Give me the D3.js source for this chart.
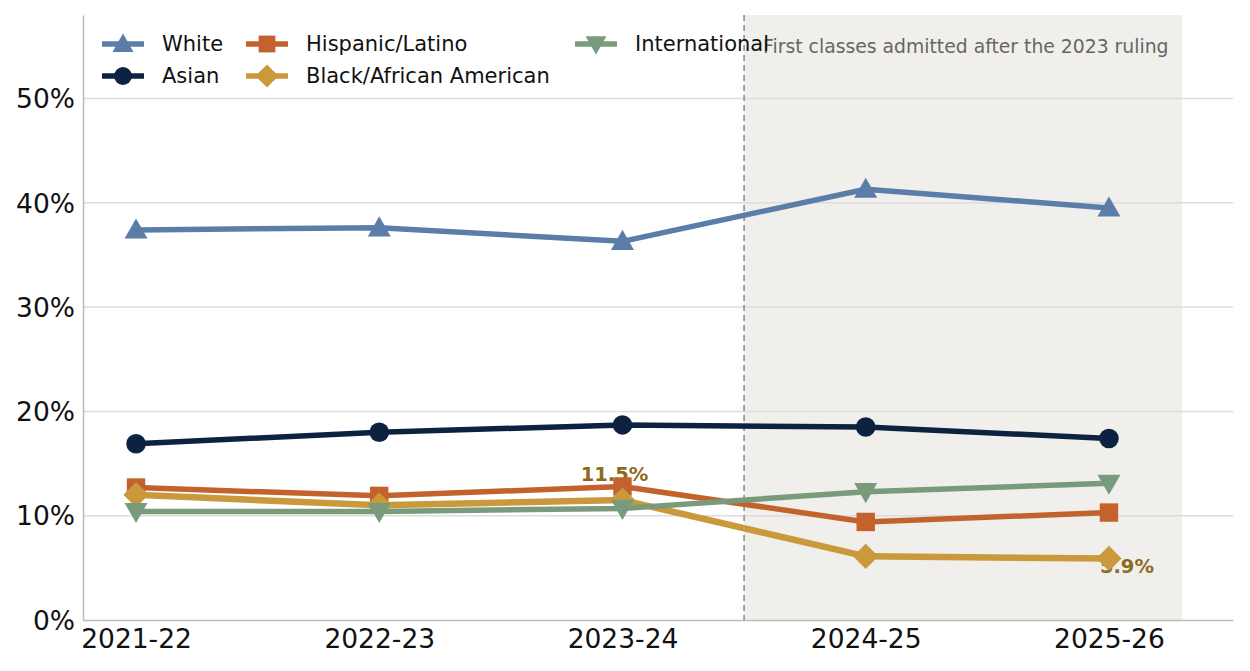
<!DOCTYPE html>
<html>
<head>
<meta charset="utf-8">
<script src="https://cdn.jsdelivr.net/npm/d3@7"></script>
<style>
  body { margin: 0; background: #fff; }
  svg text { font-family: "DejaVu Sans", sans-serif; }
</style>
</head>
<body>
<svg id="chart" width="1250" height="671"></svg>
<script>
// data
var years = ["2021-22", "2022-23", "2023-24", "2024-25", "2025-26"];
var white = [37.4, 37.6, 36.3, 41.3, 39.5];
var asian = [16.9, 18.0, 18.7, 18.5, 17.4];
var hispanic = [12.7, 11.9, 12.8, 9.4, 10.3];
var black = [12.0, 11.0, 11.5, 6.1, 5.9];
var international = [10.4, 10.4, 10.7, 12.3, 13.1];
var yTicks = [0, 10, 20, 30, 40, 50];

var series = [
    {name: "White", values: white, color: "#5a7ea8", symbol: "triangle"},
    {name: "Asian", values: asian, color: "#0c2240", symbol: "circle"},
    {name: "Hispanic/Latino", values: hispanic, color: "#c4622d", symbol: "square"},
    {name: "Black/African American", values: black, color: "#c9993b", symbol: "diamond"},
    {name: "International", values: international, color: "#7a9a7c", symbol: "tridown"}
];

var margin = {top: 15, right: 17, bottom: 51, left: 83},
    width = 1250 - margin.left - margin.right,
    height = 671 - margin.top - margin.bottom;

var svg = d3.select("#chart"),
    g = svg.append("g").attr("transform", `translate(${margin.left},${margin.top})`);

var x = d3.scaleLinear().domain([-0.218, 4.51]).range([0, width]),
    y = d3.scaleLinear().domain([0, 58]).range([height, 0]);

// shaded post-ruling span
g.append("rect")
    .attr("x", x(2.5))
    .attr("y", 0)
    .attr("width", x(4.3) - x(2.5))
    .attr("height", height)
    .attr("fill", "#f0efeb");

// grid
g.selectAll(".grid").data(yTicks.slice(1)).enter().append("line")
    .attr("x1", 0).attr("x2", width)
    .attr("y1", d => y(d)).attr("y2", d => y(d))
    .attr("stroke", "#dcdcdc").attr("stroke-width", 1.5);

// ruling line
g.append("line")
    .attr("x1", x(2.5)).attr("x2", x(2.5))
    .attr("y1", 0).attr("y2", height)
    .attr("stroke", "#999").attr("stroke-width", 1.8)
    .attr("stroke-dasharray", "6,4");

g.append("text")
    .attr("x", x(2.5) + 19).attr("y", 38)
    .attr("font-size", 18.8).attr("fill", "#666")
    .text("First classes admitted after the 2023 ruling");

// axes
var yAxis = g.append("g").call(d3.axisLeft(y).tickValues(yTicks).tickFormat(d => d + "%").tickSize(0).tickPadding(8));
var xAxis = g.append("g").attr("transform", `translate(0,${height})`)
    .call(d3.axisBottom(x).tickValues(d3.range(years.length)).tickFormat(i => years[i]).tickSize(0).tickPadding(9));
[xAxis, yAxis].forEach(a => {
    a.select(".domain").attr("stroke", "#bbb").attr("stroke-width", 1.5);
    a.selectAll("text").attr("font-size", 26.5).attr("fill", "#111");
});
yAxis.selectAll("text").attr("dy", "0.35em");

function marker(sel, s, size) {
    var r = size;
    if (s.symbol === "circle") {
        sel.append("circle").attr("r", r * 0.85).attr("fill", s.color);
    } else if (s.symbol === "square") {
        sel.append("rect").attr("x", -r * 0.8).attr("y", -r * 0.8)
            .attr("width", r * 1.6).attr("height", r * 1.6).attr("fill", s.color);
    } else if (s.symbol === "diamond") {
        sel.append("path").attr("d", `M0,${-r * 1.1}L${r * 1.1},0L0,${r * 1.1}L${-r * 1.1},0Z`).attr("fill", s.color);
    } else if (s.symbol === "triangle") {
        sel.append("path").attr("d", `M0,${-r}L${r},${r * 0.75}L${-r},${r * 0.75}Z`).attr("fill", s.color);
    } else {
        sel.append("path").attr("d", `M0,${r}L${r},${-r * 0.75}L${-r},${-r * 0.75}Z`).attr("fill", s.color);
    }
}

// value labels on Black/African American, drawn under the marks
var labelStyle = sel => sel.attr("text-anchor", "middle")
    .attr("font-size", 19.5).attr("font-weight", "bold").attr("fill", "#8b6a1f");
g.append("text")
    .attr("x", x(2) - 8).attr("y", y(black[2]) - 19)
    .call(labelStyle)
    .text(black[2].toFixed(1) + "%");
g.append("text")
    .attr("x", x(4) + 18).attr("y", y(black[4]) + 15)
    .call(labelStyle)
    .text(black[4].toFixed(1) + "%");

var line = d3.line().x((d, i) => x(i)).y(d => y(d));

series.forEach(s => {
    g.append("path")
        .datum(s.values)
        .attr("d", line)
        .attr("fill", "none")
        .attr("stroke", s.color)
        .attr("stroke-width", s.symbol === "diamond" ? 6.5 : 5.5)
        .attr("stroke-linejoin", "round");
    s.values.forEach((v, i) => {
        g.append("g").attr("transform", `translate(${x(i)},${y(v)})`).call(marker, s, 11.5);
    });
});

// legend, 3 columns like the reference
var legendPos = [
    {col: 0, row: 0}, {col: 0, row: 1},
    {col: 1, row: 0}, {col: 1, row: 1},
    {col: 2, row: 0}
];
var colX = [19, 163, 492];
var legend = g.append("g");
series.forEach((s, i) => {
    var p = legendPos[i],
        lg = legend.append("g").attr("transform", `translate(${colX[p.col]},${29 + p.row * 32})`);
    lg.append("line").attr("x1", 0).attr("x2", 42).attr("stroke", s.color).attr("stroke-width", 5.5);
    lg.append("g").attr("transform", "translate(21,0)").call(marker, s, 10.5);
    lg.append("text").attr("x", 60).attr("dy", "0.35em").attr("font-size", 21).attr("fill", "#111").text(s.name);
});
</script>
</body>
</html>
